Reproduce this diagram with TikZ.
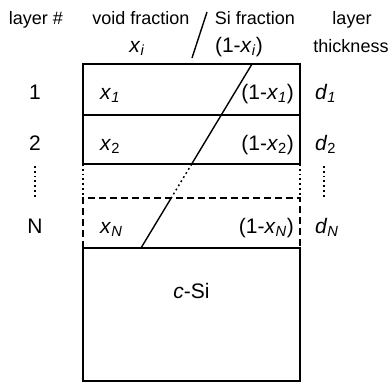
\documentclass[tikz,border=0pt]{standalone}
\usepackage{fontspec}
\setmainfont{Liberation Sans}
\usetikzlibrary{positioning}
\newcommand{\fx}[1]{\textit{x}\textsubscript{#1}}

\begin{document}
\begin{tikzpicture}[
    x=1pt, y=-1pt,
    node distance=0pt,
    layer/.style={rectangle, draw=black, minimum width=217pt, inner sep=0pt,
                  outer sep=0pt, line width=1.4pt},
    gaplayer/.style={rectangle, minimum width=217pt, inner sep=0pt, outer sep=0pt},
    head/.style={font=\fontsize{18}{18}\selectfont, inner sep=0pt, anchor=base},
    lbl/.style={font=\fontsize{21}{21}\selectfont, inner sep=0pt, anchor=base},
    edge/.style={line width=1.4pt},
    dotline/.style={line width=1.8pt, dash pattern=on 1.8pt off 3pt},
    dashline/.style={line width=1.4pt, dash pattern=on 7pt off 4pt}
]
\useasboundingbox (0,0) rectangle (391,383);

% header
\node[head] (hnum) at (36,24) {layer \#};
\node[head] (hvoid) at (141,24) {void fraction};
\node[lbl] (hvx) at (137,52) {\fx{\textit{i}}};
\node[head] (hsi) at (255,24) {Si fraction};
\node[lbl] (hsx) at (239,52) {(1-\fx{\textit{i}})};
\node[head] (hlay) at (352,24) {layer};
\node[head] (hthk) at (351,52) {thickness};
\coordinate (htop) at (207,12);
\coordinate (hbot) at (192,58);
\draw[edge] (htop) -- (hbot);

% layer stack
\node[layer, minimum height=51pt] (l1) at (191.5,89.5) {};
\node[layer, minimum height=49pt, below=of l1] (l2) {};
\node[gaplayer, minimum height=34pt, below=of l2] (lgap) {};
\node[gaplayer, minimum height=50pt, below=of lgap] (lN) {};
\node[layer, minimum height=133pt, below=of lN] (sub) {};

\draw[dotline] (lgap.north west) -- (lgap.south west);
\draw[dotline] (lgap.north east) -- (lgap.south east);
\draw[dashline] (lN.south west) -- (lN.north west) -- (lN.north east) -- (lN.south east);

% fraction boundary
\coordinate (stop) at (252,64);
\coordinate (sa) at (191.7,164);
\coordinate (sb) at (171.2,198);
\coordinate (sbot) at (141,248);
\draw[edge] (stop) -- (sa);
\draw[dotline, line width=1.5pt] (sa) -- (sb);
\draw[edge] (sb) -- (sbot);

% row labels
\node[lbl] (n1) at (35,99.5) {1};
\node[lbl] (n2) at (35,150) {2};
\node[lbl] (nN) at (35,233) {N};
\coordinate (ldt) at (35,166);
\coordinate (ldb) at (35,197);
\draw[dotline] (ldt) -- (ldb);

\node[lbl, anchor=base west] (x1) at (100,99.5) {\fx{\textit{1}}};
\node[lbl, anchor=base west] (x2) at (100,150) {\fx{2}};
\node[lbl, anchor=base west] (xN) at (100,233) {\fx{\textit{N}}};

\node[lbl, anchor=base east] (y1) at (294,99.5) {(1-\fx{\textit{1}})};
\node[lbl, anchor=base east] (y2) at (294,150) {(1-\fx{2})};
\node[lbl, anchor=base east] (yN) at (294,233) {(1-\fx{\textit{N}})};

\node[lbl, anchor=base west] (d1) at (315,99.5) {\textit{d}\textsubscript{\textit{1}}};
\node[lbl, anchor=base west] (d2) at (315,150) {\textit{d}\textsubscript{2}};
\node[lbl, anchor=base west] (dN) at (315,233) {\textit{d}\textsubscript{\textit{N}}};
\coordinate (rdt) at (324,166);
\coordinate (rdb) at (324,197);
\draw[dotline] (rdt) -- (rdb);

\node[lbl, anchor=base] (csi) at (191.5,298) {\textit{c}-Si};

\end{tikzpicture}
\end{document}
